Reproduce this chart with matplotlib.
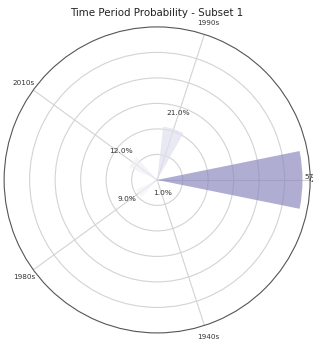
import matplotlib
matplotlib.use('Agg')
import matplotlib.pyplot as plt
import numpy as np

# data
periods = ['2000s', '1990s', '2010s', '1980s', '1940s']
probs = [0.57, 0.21, 0.12, 0.09, 0.01]

n = len(periods)
theta = np.linspace(0, 2 * np.pi, n, endpoint=False)
colors = plt.cm.Purples(np.array(probs))

fig = plt.figure(figsize=(3.13, 3.45), dpi=100)
ax = fig.add_axes([0.013, 0.035, 0.978, 0.887], projection='polar')

ax.bar(theta, probs, width=0.4, color=colors, alpha=0.7, edgecolor='none', zorder=2)

for t, p in zip(theta, probs):
    ax.text(t, p + 0.055, f'{p * 100:.1f}%', ha='center', va='bottom',
            fontsize=5.3, color='#333333', clip_on=False)

ax.set_xticks(theta)
ax.set_xticklabels(periods, fontsize=5.2, color='#333333')
ax.tick_params(axis='x', pad=-2)
ax.set_ylim(0, 0.6)
ax.set_yticks([0.1, 0.2, 0.3, 0.4, 0.5])
ax.set_yticklabels([])
ax.grid(True, color='#d3d3d3', linewidth=0.8)
ax.spines['polar'].set_color('#555555')
ax.spines['polar'].set_linewidth(0.8)

fig.suptitle('Time Period Probability - Subset 1', fontsize=7.4, y=0.978, color='#222222')

fig.savefig('out.png', dpi=100)
print("Done: out.png")
